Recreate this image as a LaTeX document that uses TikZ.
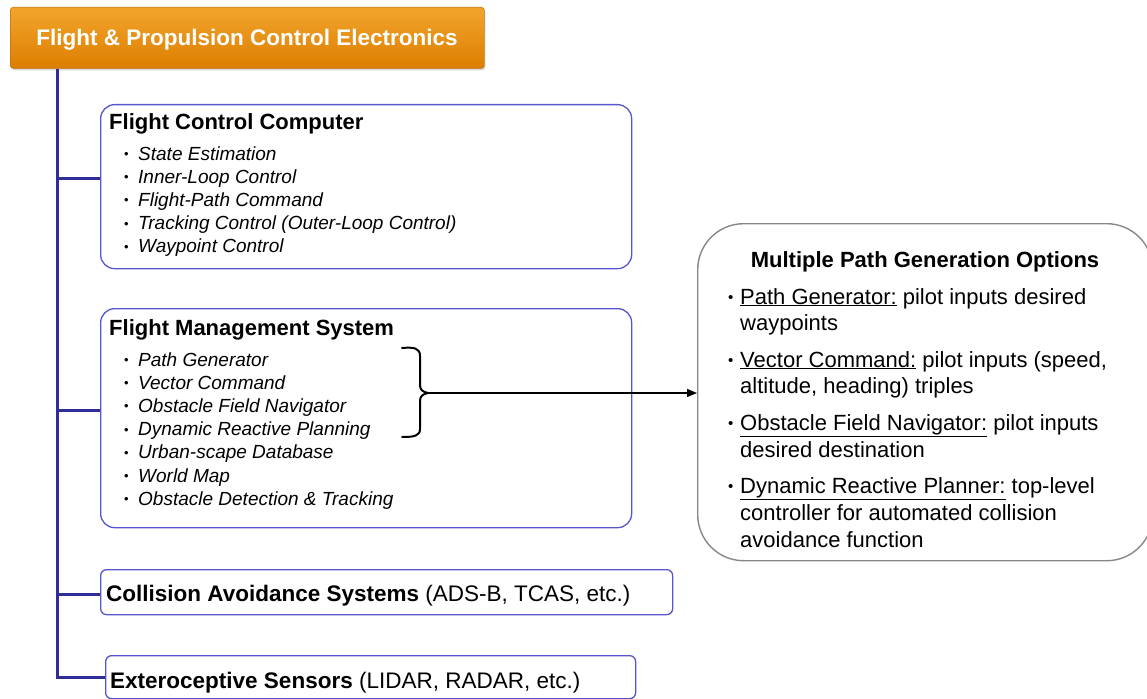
\documentclass[tikz,border=0pt]{standalone}
\usepackage{fontspec}
\setmainfont{Liberation Sans}
\usetikzlibrary{arrows.meta,shadows}
\definecolor{trunkblue}{RGB}{46,46,150}
\definecolor{boxblue}{RGB}{85,85,205}
\definecolor{orTop}{RGB}{242,165,45}
\definecolor{orBot}{RGB}{220,126,0}
\definecolor{orLine}{RGB}{200,115,0}
\definecolor{optgray}{RGB}{135,135,135}
\newcommand\bulS{\makebox[14pt][l]{\raisebox{1.6pt}{\fontsize{13}{13}\selectfont\upshape •}}}
\newcommand\bulL{\makebox[12pt][l]{\raisebox{2pt}{\fontsize{15}{15}\selectfont •}}}
\begin{document}
\begin{tikzpicture}[x=1pt,y=-1pt,
  trunk/.style={draw=trunkblue, line width=3pt},
  bluebox/.style={draw=boxblue, line width=1.3pt, rounded corners=14pt, anchor=north west, inner sep=0pt},
  optbox/.style={draw=optgray, line width=1.4pt, rounded corners=46pt, anchor=north west, inner sep=0pt},
  topbox/.style={draw=orLine, line width=0.6pt, top color=orTop, bottom color=orBot, rounded corners=3pt,
                 anchor=north west, inner sep=0pt,
                 drop shadow={opacity=0.3, shadow xshift=1pt, shadow yshift=-2pt}},
  ttl/.style={inner sep=0pt, font=\fontsize{22}{26}\selectfont\bfseries},
  itm/.style={inner sep=0pt, anchor=base west, font=\fontsize{19}{23}\selectfont\itshape},
  opt/.style={inner sep=0pt, anchor=base west, font=\fontsize{22}{26}\selectfont},
  brace/.style={draw=black, line width=2pt, line cap=round, line join=round},
  arr/.style={draw=black, line width=1.4pt, -{Triangle[length=10pt,width=8pt]}}
]
\useasboundingbox (0,0) rectangle (1147,698);

% top box
\node[topbox, minimum width=474pt, minimum height=61pt] (top) at (10,7) {};
\node[ttl, anchor=base, text=white, font=\fontsize{22.5}{26}\selectfont\bfseries] (topt) at (247,46) {Flight \& Propulsion Control Electronics};

% boxes
\node[bluebox, minimum width=531pt, minimum height=164pt] (fcc) at (100,104) {};
\node[bluebox, minimum width=531pt, minimum height=219pt] (fms) at (100,308) {};
\node[bluebox, rounded corners=6pt, minimum width=572pt, minimum height=45pt] (cas) at (100,569) {};
\node[bluebox, rounded corners=6pt, minimum width=530pt, minimum height=43pt] (es) at (105,655) {};
\node[optbox, minimum width=455pt, minimum height=337pt] (opt) at (697,223) {};

% trunk and branches
\coordinate (tr) at (57,677);
\coordinate (b1) at (57,178);
\coordinate (b2) at (57,410);
\coordinate (b3) at (57,594);
\draw[trunk] (top.south -| tr) -- (tr) -- (es.west |- tr);
\draw[trunk] (b1) -- (fcc.west |- b1);
\draw[trunk] (b2) -- (fms.west |- b2);
\draw[trunk] (b3) -- (cas.west |- b3);

% FCC text
\node[ttl, anchor=base west] (fcct) at (109,129) {Flight Control Computer};
\foreach \t [count=\i] in {State Estimation, Inner-Loop Control, Flight-Path Command, Tracking Control (Outer-Loop Control), Waypoint Control}
  \node[itm] (fcci\i) at (124,{160+23.2*(\i-1)}) {\bulS\t};

% FMS text
\node[ttl, anchor=base west] (fmst) at (109,335) {Flight Management System};
\foreach \t [count=\i] in {Path Generator, Vector Command, Obstacle Field Navigator, Dynamic Reactive Planning, Urban-scape Database, World Map, Obstacle Detection \& Tracking}
  \node[itm] (fmsi\i) at (124,{366+23.2*(\i-1)}) {\bulS\t};

% brace and arrow
\coordinate (tip) at (428,393);
\draw[brace] (402,348) .. controls (414,347) and (420,348) .. (420,356) -- (420,385)
   .. controls (420,390) and (423,392) .. (tip)
   .. controls (423,394) and (420,396) .. (420,401) -- (420,429)
   .. controls (420,436) and (414,437) .. (402,437);
\draw[arr] (tip) -- (opt.west |- tip);

% CAS / ES text
\node[inner sep=0pt, anchor=base west, font=\fontsize{22.5}{26}\selectfont] (cast) at (106,601) {\textbf{Collision Avoidance Systems} (ADS-B, TCAS, etc.)};
\node[inner sep=0pt, anchor=base west, font=\fontsize{22.5}{26}\selectfont] (est) at (110,688) {\textbf{Exteroceptive Sensors} (LIDAR, RADAR, etc.)};

% options text
\node[ttl, anchor=base] (optt) at (925,267) {Multiple Path Generation Options};
\node[opt] (o1a) at (728,304) {\bulL\underline{Path Generator:} pilot inputs desired};
\node[opt] (o1b) at (740,330) {waypoints};
\node[opt] (o2a) at (728,367) {\bulL\underline{Vector Command:} pilot inputs (speed,};
\node[opt] (o2b) at (740,393) {altitude, heading) triples};
\node[opt] (o3a) at (728,430) {\bulL\underline{Obstacle Field Navigator:} pilot inputs};
\node[opt] (o3b) at (740,457) {desired destination};
\node[opt] (o4a) at (728,493) {\bulL\underline{Dynamic Reactive Planner:} top-level};
\node[opt] (o4b) at (740,520) {controller for automated collision};
\node[opt] (o4c) at (740,547) {avoidance function};
\end{tikzpicture}
\end{document}
